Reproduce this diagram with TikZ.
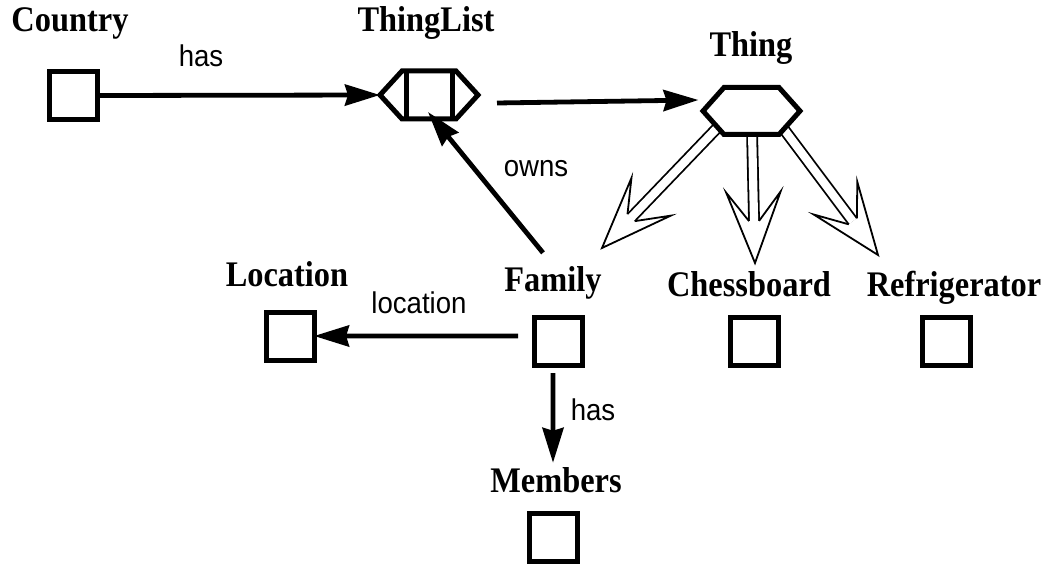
\documentclass[tikz,border=0pt]{standalone}
\usepackage{fontspec}
\setmainfont{Liberation Serif}[FakeStretch=0.9]
\setsansfont{Liberation Sans}[FakeStretch=0.92]
\usetikzlibrary{arrows.meta,calc}
\tikzset{
  box/.style={draw, line width=5bp, minimum size=48bp, inner sep=0pt, outer sep=0pt},
  title/.style={font=\fontsize{36bp}{40bp}\selectfont\bfseries, anchor=base, inner sep=0pt},
  rel/.style={font=\fontsize{30bp}{33bp}\selectfont\sffamily, anchor=base, inner sep=0pt},
  conn/.style={line width=4.8bp, -{Stealth[length=35bp, width=21bp, inset=3bp]}},
  hexline/.style={line width=5bp, line join=miter, fill=white},
  dline/.style={line width=1.8bp, double distance=8.2bp},
  dhead/.style={line width=1.8bp, fill=white, line join=miter, miter limit=10},
  anchorbox/.style={minimum width=98bp, minimum height=48bp, inner sep=0pt, outer sep=0pt},
}
\newcommand\hollowarrow[3]{% #1 name prefix, #2 start, #3 tip
  \coordinate (#1n) at ($(#3)!42bp!(#2)$);
  \draw[dline, shorten >=42bp] (#2) -- (#3);
  \filldraw[dhead] ($(#1n)!5bp!-90:(#3)$) -- ($(#3)!76bp!21:(#2)$) -- (#3)
     -- ($(#3)!76bp!-21:(#2)$) -- ($(#1n)!5bp!90:(#3)$);
}
\begin{document}
\begin{tikzpicture}[x=1bp,y=-1bp]
\useasboundingbox (0,0) rectangle (1052,565);

% titles
\node[title] (countryL) at (70,32) {Country};
\node[title] (tlL) at (426,32) {ThingList};
\node[title] (thingL) at (751,57) {Thing};
\node[title] (locL) at (287,287) {Location};
\node[title] (famL) at (553,292) {Family};
\node[title] (chessL) at (749,297) {Chessboard};
\node[title] (refL) at (954,297) {Refrigerator};
\node[title] (memL) at (556,492) {Members};

% boxes
\node[box] (country) at (73.5,95.5) {};
\node[box] (loc) at (290,336) {};
\node[box] (fam) at (558,341) {};
\node[box] (chess) at (754,341) {};
\node[box] (ref) at (946,341) {};
\node[box] (mem) at (553,537) {};

% ThingList shape
\node[anchorbox] (tl) at (429,95) {};
\draw[hexline] ($(tl.center)+(-49,0)$) -- ($(tl.center)+(-27,-24)$) -- ($(tl.center)+(27,-24)$)
  -- ($(tl.center)+(49,0)$) -- ($(tl.center)+(27,24)$) -- ($(tl.center)+(-27,24)$) -- cycle;
\draw[line width=5bp] ($(tl.center)+(-23,-24)$) -- ($(tl.center)+(-23,24)$);
\draw[line width=5bp] ($(tl.center)+(23,-24)$) -- ($(tl.center)+(23,24)$);

% Thing shape anchor
\node[anchorbox, minimum width=97bp, minimum height=47bp] (thing) at (751.5,111) {};

% hollow (double) arrows from Thing
\coordinate (sL) at ($(thing.center)+(-31.5,14)$);
\coordinate (sM) at ($(thing.center)+(0.5,19)$);
\coordinate (sR) at ($(thing.center)+(28.5,13)$);
\coordinate (famTip) at (602,248);
\coordinate (chessTip) at (755,263);
\coordinate (refTip) at (878,255);
\hollowarrow{a}{sL}{famTip}
\hollowarrow{b}{sM}{chessTip}
\hollowarrow{c}{sR}{refTip}

\draw[hexline] ($(thing.center)+(-48.5,0)$) -- ($(thing.center)+(-27.5,-23.5)$) -- ($(thing.center)+(27.5,-23.5)$)
  -- ($(thing.center)+(48.5,0)$) -- ($(thing.center)+(27.5,23.5)$) -- ($(thing.center)+(-27.5,23.5)$) -- cycle;

% connectors
\draw[conn] (country.east) -- (tl.west);
\node[rel] (hasTop) at (201,67) {has};
\draw[conn] ([xshift=19bp,yshift=-8bp]tl.east) -- ([xshift=-4.5bp,yshift=11bp]thing.west);
\draw[conn] ([xshift=-10bp,yshift=14bp]famL.north) -- ([xshift=-1bp,yshift=7bp]tl.south);
\node[rel] (owns) at (536,177) {owns};
\draw[conn] ([xshift=-16bp,yshift=5bp]fam.west) -- (loc.east);
\node[rel] (locRel) at (419,314) {location};
\draw[conn] ([xshift=-5bp,yshift=-8bp]fam.south) -- ([xshift=-3bp,yshift=4bp]memL.north);
\node[rel] (hasBot) at (593,420) {has};
\end{tikzpicture}
\end{document}
